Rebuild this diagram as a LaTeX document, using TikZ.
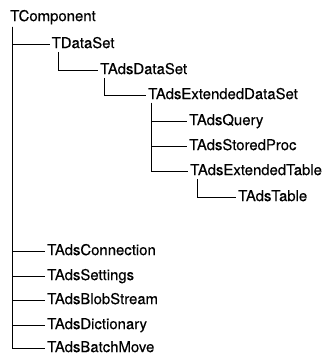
\documentclass[tikz,border=0pt]{standalone}
\usepackage{fontspec}
\setmainfont{TeX Gyre Heros}[FakeBold=0.35]
\begin{document}
\begin{tikzpicture}[x=1pt,y=-1pt,
  cls/.style={anchor=west,inner xsep=2pt,inner ysep=0pt,text height=0.716em,text depth=0pt,font=\fontsize{14.9}{15}\selectfont},
  link/.style={line width=1pt,black}]
\useasboundingbox (0,0) rectangle (328,358);
\node[cls] (c0) at (8,17.5) {TComponent};
\node[cls] (c1) at (49.5,44.5) {TDataSet};
\node[cls] (c2) at (98,70.5) {TAdsDataSet};
\node[cls] (c3) at (146,95.5) {TAdsExtendedDataSet};
\node[cls] (q) at (187,121.5) {TAdsQuery};
\node[cls] (sp) at (187,146.5) {TAdsStoredProc};
\node[cls] (et) at (188,171.5) {TAdsExtendedTable};
\node[cls] (t) at (236,197.5) {TAdsTable};
\node[cls] (cn) at (45,251.5) {TAdsConnection};
\node[cls] (st) at (45,276.5) {TAdsSettings};
\node[cls] (bs) at (45,300.5) {TAdsBlobStream};
\node[cls] (dc) at (45,325.5) {TAdsDictionary};
\node[cls] (bm) at (45,348.5) {TAdsBatchMove};
\coordinate (r0) at (12.5,27);
\coordinate (r1) at (58.5,52);
\coordinate (r2) at (104.5,78);
\coordinate (r3) at (151.5,103);
\coordinate (r4) at (197.5,179);
\foreach \ch in {c1,cn,st,bs,dc,bm} \draw[link] (r0) |- (\ch.west);
\draw[link] (r1) |- (c2.west);
\draw[link] (r2) |- (c3.west);
\foreach \ch in {q,sp,et} \draw[link] (r3) |- (\ch.west);
\draw[link] (r4) |- (t.west);
\end{tikzpicture}
\end{document}
